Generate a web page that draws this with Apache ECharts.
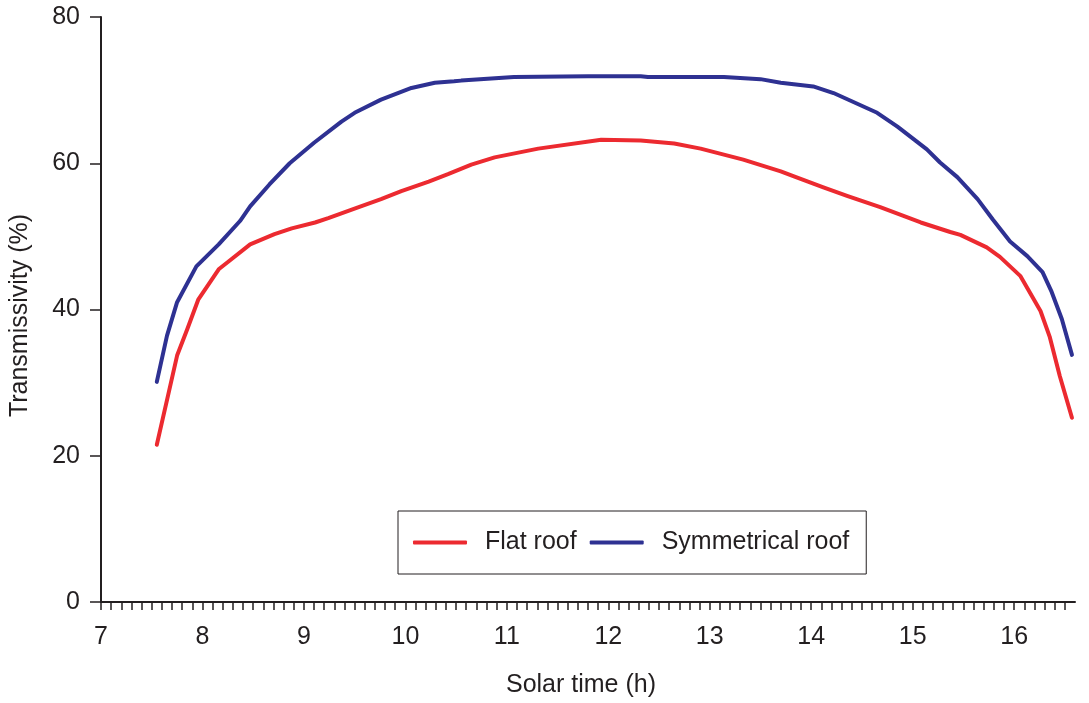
<!DOCTYPE html>
<html>
<head>
<meta charset="utf-8">
<title>Transmissivity vs solar time</title>
<script src="https://cdn.jsdelivr.net/npm/echarts@6/dist/echarts.min.js"></script>
<style>
  html, body { margin: 0; padding: 0; background: #ffffff; }
  #chart { width: 1089px; height: 703px; }
</style>
</head>
<body>
<div id="chart"></div>
<script>
// Solar time (h) and transmissivity (%) for each roof type
const flatTime = [7.55, 7.67, 7.75, 7.85, 7.96, 8.16, 8.26, 8.47, 8.71, 8.88, 9.11, 9.24, 9.54, 9.76, 9.96, 10.23, 10.42, 10.65, 10.88, 11.31, 11.93, 12.32, 12.65, 12.91, 13.33, 13.70, 13.83, 14.12, 14.36, 14.68, 15.08, 15.37, 15.47, 15.73, 15.86, 16.06, 16.26, 16.35, 16.45, 16.57];
const flatValues = [21.5, 28.8, 33.7, 37.3, 41.4, 45.5, 46.6, 48.9, 50.3, 51.1, 51.9, 52.5, 54.0, 55.1, 56.2, 57.5, 58.5, 59.8, 60.8, 62.0, 63.2, 63.1, 62.7, 62.0, 60.5, 58.9, 58.2, 56.7, 55.5, 54.0, 51.9, 50.6, 50.2, 48.5, 47.2, 44.6, 39.8, 36.3, 30.9, 25.2];

const symTime = [7.55, 7.65, 7.75, 7.94, 8.16, 8.37, 8.47, 8.66, 8.86, 9.10, 9.37, 9.50, 9.76, 10.06, 10.29, 10.48, 10.55, 11.07, 11.80, 12.32, 12.39, 13.14, 13.50, 13.70, 14.02, 14.22, 14.65, 14.85, 15.14, 15.27, 15.44, 15.64, 15.79, 15.96, 16.13, 16.28, 16.37, 16.47, 16.57];
const symValues = [30.1, 36.4, 41.0, 45.9, 48.9, 52.1, 54.1, 57.1, 60.0, 62.8, 65.7, 66.9, 68.7, 70.3, 71.0, 71.2, 71.3, 71.8, 71.9, 71.9, 71.8, 71.8, 71.5, 71.0, 70.5, 69.6, 66.9, 65.0, 61.9, 60.1, 58.1, 55.1, 52.3, 49.3, 47.3, 45.1, 42.4, 38.7, 33.8];

const seriesNames = ['Flat roof', 'Symmetrical roof'];
const xTitle = 'Solar time (h)';
const yTitle = 'Transmissivity (%)';

const ink = '#231f20';
const font = 'Liberation Sans, Arial, Helvetica, sans-serif';
const textSize = 25;

function pairs(xs, ys) {
  return xs.map((x, i) => [x, ys[i]]);
}

const chart = echarts.init(document.getElementById('chart'), null, { renderer: 'canvas' });

chart.setOption({
  backgroundColor: '#ffffff',
  animation: false,
  textStyle: { fontFamily: font, color: ink },
  grid: { left: 98, right: 14, top: 17, bottom: 99, containLabel: false },
  legend: {
    left: 398,
    top: 511,
    orient: 'horizontal',
    padding: [19, 17, 19, 15],
    itemGap: 13,
    itemWidth: 54,
    itemHeight: 4,
    icon: 'roundRect',
    borderColor: ink,
    borderWidth: 1,
    textStyle: { fontSize: textSize, color: ink, fontFamily: font, padding: [0, 0, 0, 13] },
    data: seriesNames
  },
  xAxis: {
    type: 'value',
    min: 7,
    max: 16.6,
    interval: 0.1,
    name: xTitle,
    nameLocation: 'middle',
    nameGap: 71,
    nameTextStyle: { fontSize: textSize, color: ink, fontFamily: font, padding: [0, 14, 0, 0] },
    axisLine: { show: true, onZero: false, lineStyle: { color: ink, width: 2 } },
    axisTick: { show: true, inside: false, length: 8, lineStyle: { color: ink, width: 1.5 } },
    axisLabel: {
      margin: 23,
      fontSize: textSize,
      color: ink,
      fontFamily: font,
      showMaxLabel: false,
      formatter: function (v) {
        const r = Math.round(v);
        return Math.abs(v - r) < 1e-6 ? String(r) : '';
      }
    },
    splitLine: { show: false }
  },
  yAxis: {
    type: 'value',
    min: 0,
    max: 80,
    interval: 20,
    name: yTitle,
    nameLocation: 'middle',
    nameGap: 68,
    nameTextStyle: { fontSize: textSize, color: ink, fontFamily: font, padding: [0, 12, 0, 0] },
    axisLine: { show: true, lineStyle: { color: ink, width: 2 } },
    axisTick: { show: true, inside: false, length: 11, lineStyle: { color: ink, width: 1.5 } },
    axisLabel: { margin: 21, fontSize: textSize, color: ink, fontFamily: font },
    splitLine: { show: false }
  },
  series: [
    {
      name: seriesNames[0],
      type: 'line',
      data: pairs(flatTime, flatValues),
      showSymbol: false,
      symbol: 'none',
      smooth: false,
      color: '#ec2a30',
      lineStyle: { color: '#ec2a30', width: 4, cap: 'round', join: 'round' }
    },
    {
      name: seriesNames[1],
      type: 'line',
      data: pairs(symTime, symValues),
      showSymbol: false,
      symbol: 'none',
      smooth: false,
      color: '#2e3192',
      lineStyle: { color: '#2e3192', width: 4, cap: 'round', join: 'round' }
    }
  ]
});
</script>
</body>
</html>
